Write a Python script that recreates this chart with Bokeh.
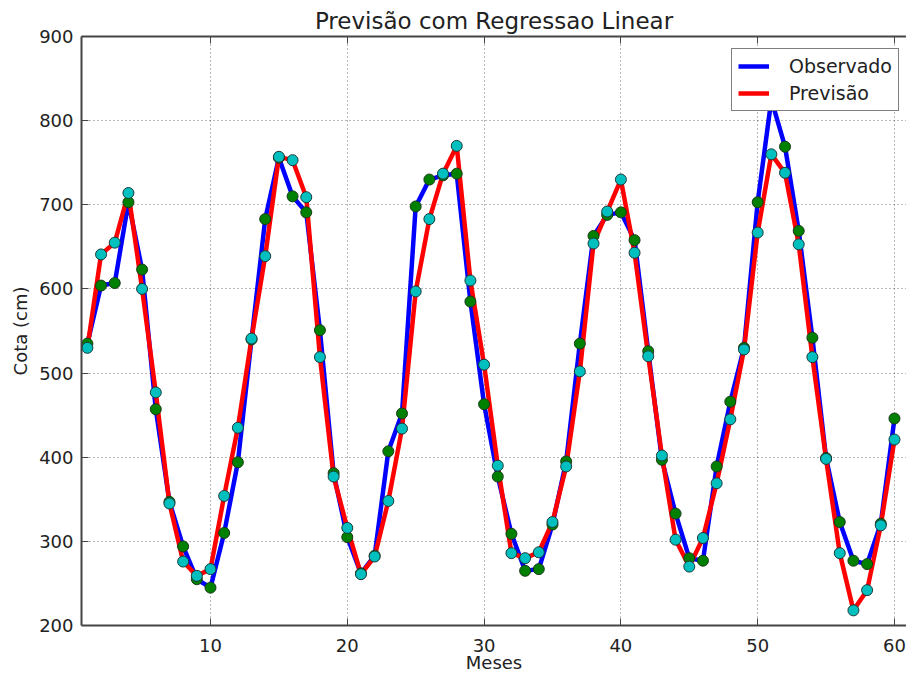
from bokeh.plotting import figure
from bokeh.models import (ColumnDataSource, Range1d, LinearAxis, FixedTicker,
                          Legend, LegendItem)
from bokeh.embed import file_html
from bokeh.resources import INLINE

# ---- data ----
months = list(range(1, 61))
observado = [535, 604, 607, 703, 623, 457, 347, 294, 255, 245,
             310, 394, 540, 683, 756, 710, 691, 551, 381, 305,
             262, 283, 407, 452, 698, 730, 735, 737, 585, 463,
             377, 309, 265, 267, 320, 395, 535, 663, 688, 691,
             658, 526, 397, 333, 280, 277, 389, 466, 530, 703,
             825, 769, 669, 542, 399, 323, 277, 273, 321, 446]
previsao = [530, 641, 655, 714, 600, 477, 345, 276, 259, 267,
            354, 435, 541, 639, 757, 753, 709, 519, 377, 316,
            261, 282, 348, 434, 597, 683, 737, 770, 610, 510,
            390, 286, 280, 287, 323, 389, 502, 654, 692, 730,
            643, 520, 402, 302, 270, 304, 369, 445, 528, 667,
            760, 738, 653, 519, 398, 286, 218, 242, 319, 421]
x_ticks = [10, 20, 30, 40, 50, 60]
y_ticks = [200, 300, 400, 500, 600, 700, 800, 900]

src = ColumnDataSource(dict(m=months, obs=observado, prev=previsao))

FONT = "DejaVu Sans"

p = figure(width=906, height=675, output_backend="svg", toolbar_location=None,
           x_range=Range1d(0.57, 60.88), y_range=Range1d(200, 900),
           min_border_left=81, min_border_right=0, min_border_top=36,
           min_border_bottom=49, x_axis_label="Meses", y_axis_label="Cota (cm)")
p.outline_line_color = None
p.background_fill_color = "white"
p.border_fill_color = "white"

p.title.text = "Previsão com Regressao Linear"
p.title.align = "center"
p.title.text_font = FONT
p.title.text_font_size = "23px"
p.title.text_font_style = "normal"
p.title.text_color = "#222222"
p.title.standoff = 6

for ax in (p.xaxis[0], p.yaxis[0]):
    ax.axis_label_text_font = FONT
    ax.axis_label_text_font_size = "18px"
    ax.axis_label_text_font_style = "normal"
    ax.axis_label_text_color = "#222222"
    ax.major_label_text_font = FONT
    ax.major_label_text_font_size = "18px"
    ax.major_label_text_color = "#222222"
    ax.major_tick_in = 7
    ax.major_tick_out = 0
    ax.minor_tick_line_color = None
    ax.axis_line_color = "#444444"
    ax.axis_line_width = 2
    ax.major_tick_line_color = "#444444"
p.xaxis[0].ticker = FixedTicker(ticks=x_ticks)
p.yaxis[0].ticker = FixedTicker(ticks=y_ticks)
p.xaxis[0].major_label_standoff = 13
p.yaxis[0].major_label_standoff = 8
p.xaxis[0].axis_label_standoff = -3
p.yaxis[0].axis_label_standoff = 5

top = LinearAxis(ticker=FixedTicker(ticks=x_ticks),
                 major_label_overrides={t: "" for t in x_ticks},
                 major_label_text_font_size="2px",
                 major_label_standoff=0, major_tick_in=7, major_tick_out=0,
                 minor_tick_line_color=None, axis_line_color="#444444",
                 axis_line_width=2, major_tick_line_color="#444444")
p.add_layout(top, "above")

p.xgrid.ticker = FixedTicker(ticks=x_ticks)
p.ygrid.ticker = FixedTicker(ticks=y_ticks)
for g in (p.xgrid[0], p.ygrid[0]):
    g.grid_line_color = "black"
    g.grid_line_alpha = 0.55
    g.grid_line_dash = "1 3"
    g.grid_line_width = 1

l_obs = p.line("m", "obs", source=src, line_color="#0000ff", line_width=4.5)
l_prev = p.line("m", "prev", source=src, line_color="#ff0000", line_width=4.5)
p.scatter("m", "obs", source=src, size=11, fill_color="#008000",
          line_color="#1a3a1a", line_width=1)
p.scatter("m", "prev", source=src, size=11, fill_color="#00bfbf",
          line_color="#1a3a3a", line_width=1)

legend = Legend(items=[LegendItem(label="Observado", renderers=[l_obs]),
                       LegendItem(label="Previsão", renderers=[l_prev])],
                location=(650, 514))
legend.label_text_font = FONT
legend.label_text_font_size = "19px"
legend.label_text_color = "#222222"
legend.glyph_width = 31
legend.glyph_height = 20
legend.label_height = 20
legend.label_standoff = 20
legend.spacing = 5
legend.padding = 6
legend.margin = 0
legend.border_line_color = "black"
legend.border_line_width = 1
legend.background_fill_color = "white"
legend.background_fill_alpha = 1
p.add_layout(legend, "center")

open("out.html", "w").write(file_html(p, INLINE))
